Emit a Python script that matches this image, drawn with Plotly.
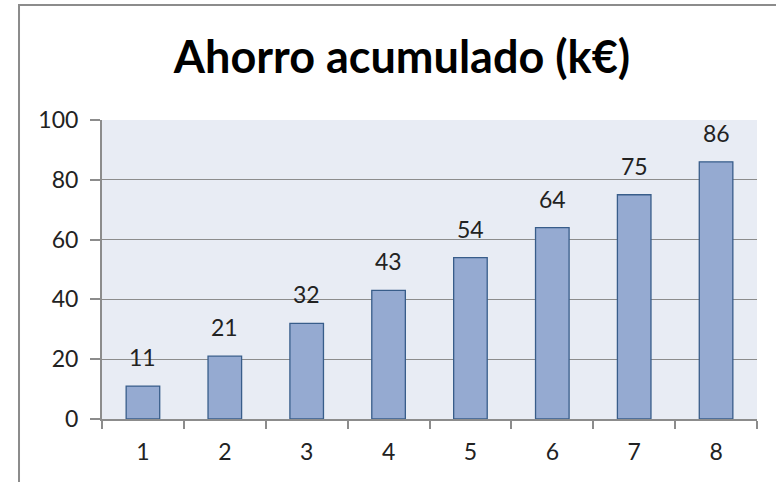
import plotly.graph_objects as go

categories = ["1", "2", "3", "4", "5", "6", "7", "8"]
values = [11, 21, 32, 43, 54, 64, 75, 86]
y_ticks = [0, 20, 40, 60, 80, 100]
title_text = "Ahorro acumulado (k€)"

FONT = "Lato"

fig = go.Figure()
fig.add_trace(go.Bar(
    x=categories, y=values,
    marker=dict(color="#95AAD1", line=dict(color="#385D8A", width=1.3)),
    hoverinfo="x+y",
))

for i, v in enumerate(values):
    fig.add_annotation(x=i, y=v, text=str(v), showarrow=False,
                       yanchor="bottom", yshift=13,
                       font=dict(family=FONT, size=23, color="#222222"))

# outer chart-area frame (partially visible in the reference)
fig.add_shape(type="rect", xref="paper", yref="paper",
              x0=-0.1267, x1=1.5, y0=-1.0, y1=1.3846,
              line=dict(color="#8C8C8C", width=2), fillcolor="rgba(0,0,0,0)",
              layer="below")

fig.update_layout(
    width=776, height=482,
    margin=dict(l=102, r=19, t=120, b=63),
    paper_bgcolor="white",
    plot_bgcolor="#E8ECF4",
    bargap=0.59,
    showlegend=False,
    title=dict(text="<b>" + title_text + "</b>", x=0.518, xanchor="center",
               y=0.881, yanchor="middle",
               font=dict(family=FONT, size=45, color="#000000")),
    font=dict(family=FONT, size=23, color="#222222"),
)
fig.update_xaxes(
    type="category", showgrid=False, showline=True, linecolor="#8C8C8C", linewidth=2,
    ticks="outside", tickson="boundaries", ticklen=8, tickwidth=2, tickcolor="#8C8C8C",
    ticklabelstandoff=11,
)
fig.update_yaxes(
    range=[0, 100], tickvals=y_ticks, showgrid=True, gridcolor="#8C8C8C", gridwidth=1,
    showline=True, linecolor="#8C8C8C", linewidth=2, zeroline=False,
    ticks="outside", ticklen=10, tickwidth=2, tickcolor="#8C8C8C",
    ticklabelstandoff=7,
)

fig.write_html("out.html", config={"displayModeBar": False},
               post_script="document.body.style.margin='0px';")
